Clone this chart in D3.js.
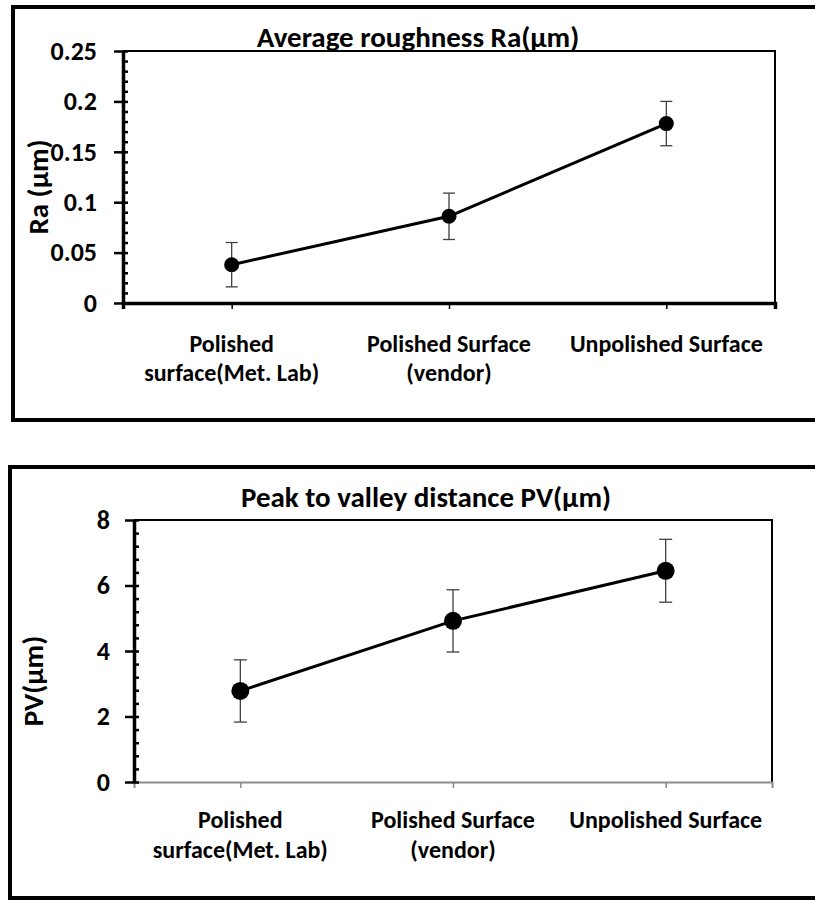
<!DOCTYPE html>
<html>
<head>
<meta charset="utf-8">
<script src="https://cdn.jsdelivr.net/npm/d3@7"></script>
<style>
  body { margin: 0; background: #fff; }
  svg text { font-family: Carlito, Calibri, "Liberation Sans Narrow", "Open Sans", sans-serif; font-weight: bold; fill: #000; }
</style>
</head>
<body>
<div id="chart"></div>
<script>
// Data
const categories = ["Polished surface(Met. Lab)", "Polished Surface (vendor)", "Unpolished Surface"]
const categoryLines = [["Polished", "surface(Met. Lab)"], ["Polished Surface", "(vendor)"], ["Unpolished Surface"]]

const raMean = [0.038, 0.086, 0.178]
const raError = [0.022, 0.023, 0.022]
const raTicks = [0, 0.05, 0.1, 0.15, 0.2, 0.25]
const raTickLabels = ["0", "0.05", "0.1", "0.15", "0.2", "0.25"]

const pvMean = [2.78, 4.92, 6.45]
const pvError = [0.95, 0.95, 0.96]
const pvTicks = [0, 2, 4, 6, 8]
const pvTickLabels = ["0", "2", "4", "6", "8"]

const svg = d3.select('#chart')
  .append('svg')
  .attr('width', 815)
  .attr('height', 900)

function drawChart(cfg) {
  const g = svg.append('g')

  // outer frame
  g.append('rect')
    .attr('x', cfg.box.x).attr('y', cfg.box.y)
    .attr('width', cfg.box.w).attr('height', cfg.box.h)
    .attr('fill', 'none')
    .attr('stroke', '#000')
    .attr('stroke-width', 4)

  const xScale = d3.scalePoint()
    .domain(categories)
    .range([cfg.left, cfg.right])
    .padding(0.5)

  const yScale = d3.scaleLinear()
    .domain([cfg.ticks[0], cfg.ticks[cfg.ticks.length - 1]])
    .range([cfg.bottom, cfg.top])

  // plot area top / right border
  g.append('path')
    .attr('d', `M${cfg.left},${cfg.top}H${cfg.right}V${cfg.bottom}`)
    .attr('fill', 'none')
    .attr('stroke', '#000')
    .attr('stroke-width', 2)

  // x axis
  const xAxis = d3.axisBottom(xScale)
    .tickSize(6)
    .tickSizeOuter(6)
    .tickFormat('')
  const xAxisGroup = g.append('g')
    .attr('transform', `translate(0, ${cfg.bottom})`)
    .call(xAxis)
  xAxisGroup.select('.domain')
    .attr('stroke', cfg.xAxisColor)
    .attr('stroke-width', cfg.xAxisWidth)
  xAxisGroup.selectAll('.tick line')
    .attr('stroke', cfg.xAxisColor)
    .attr('stroke-width', 1.5)

  // minor ticks (inside)
  const minorAxis = d3.axisRight(yScale)
    .tickValues(d3.range(cfg.ticks[0], cfg.ticks[cfg.ticks.length - 1] + cfg.minorStep / 2, cfg.minorStep))
    .tickSize(5)
    .tickSizeOuter(0)
    .tickFormat('')
  const minorGroup = g.append('g')
    .attr('transform', `translate(${cfg.left}, 0)`)
    .call(minorAxis)
  minorGroup.select('.domain').remove()
  minorGroup.selectAll('.tick line').attr('stroke', '#000').attr('stroke-width', 2.5)

  // major ticks (outside) + labels
  const yAxis = d3.axisLeft(yScale)
    .tickValues(cfg.ticks)
    .tickSize(9)
    .tickSizeOuter(0)
    .tickPadding(cfg.tickPad)
    .tickFormat((d, i) => cfg.tickLabels[i])
  const yAxisGroup = g.append('g')
    .attr('transform', `translate(${cfg.left}, 0)`)
    .call(yAxis)
  yAxisGroup.select('.domain')
    .attr('stroke', '#000')
    .attr('stroke-width', 3.5)
  yAxisGroup.selectAll('.tick line').attr('stroke', '#000').attr('stroke-width', 2.5)
  yAxisGroup.selectAll('.tick text')
    .attr('font-size', cfg.tickSize)
    .attr('font-family', null)

  // category labels
  const cats = g.append('g')
  categories.forEach((c, i) => {
    const t = cats.append('text')
      .attr('text-anchor', 'middle')
      .attr('font-size', cfg.fontSize)
    categoryLines[i].forEach((line, j) => {
      t.append('tspan')
        .attr('x', xScale(c))
        .attr('y', cfg.catY[j])
        .text(line)
    })
  })

  // title
  g.append('text')
    .attr('x', cfg.titleX)
    .attr('y', cfg.titleY)
    .attr('text-anchor', 'middle')
    .attr('font-size', cfg.titleSize)
    .text(cfg.title)

  // y axis title
  g.append('text')
    .attr('transform', `translate(${cfg.yTitleX}, ${cfg.yTitleY}) rotate(-90)`)
    .attr('text-anchor', 'middle')
    .attr('font-size', cfg.titleSize)
    .text(cfg.yTitle)

  // error bars
  const eb = g.append('g')
    .attr('stroke', '#404040')
    .attr('stroke-width', 1.3)
  categories.forEach((c, i) => {
    const x = xScale(c)
    const y1 = yScale(cfg.mean[i] + cfg.err[i])
    const y0 = yScale(cfg.mean[i] - cfg.err[i])
    eb.append('line').attr('x1', x).attr('x2', x).attr('y1', y1).attr('y2', y0)
    eb.append('line').attr('x1', x - cfg.cap).attr('x2', x + cfg.cap).attr('y1', y1).attr('y2', y1)
    eb.append('line').attr('x1', x - cfg.cap).attr('x2', x + cfg.cap).attr('y1', y0).attr('y2', y0)
  })

  // line
  const lineGenerator = d3.line()
    .x((d, i) => xScale(categories[i]))
    .y(d => yScale(d))
  g.append('path')
    .datum(cfg.mean)
    .attr('d', lineGenerator)
    .attr('fill', 'none')
    .attr('stroke', '#000')
    .attr('stroke-width', 3)

  // markers
  g.selectAll('circle.pt')
    .data(cfg.mean)
    .join('circle')
    .attr('class', 'pt')
    .attr('cx', (d, i) => xScale(categories[i]))
    .attr('cy', d => yScale(d))
    .attr('r', cfg.r)
    .attr('fill', '#000')
}

drawChart({
  box: { x: 13, y: 7, w: 810, h: 413 },
  left: 123, right: 775, top: 51, bottom: 303,
  ticks: raTicks, tickLabels: raTickLabels, minorStep: 0.01, tickPad: 17,
  mean: raMean, err: raError,
  title: 'Average roughness Ra(µm)', titleX: 418, titleY: 47,
  yTitle: 'Ra (µm)', yTitleX: 48, yTitleY: 187,
  catY: [352, 381],
  xAxisColor: '#000', xAxisWidth: 3.5,
  fontSize: 24, tickSize: 26, titleSize: 29, r: 7.5, cap: 6
})

drawChart({
  box: { x: 10, y: 467, w: 815, h: 431 },
  left: 134, right: 772, top: 520, bottom: 782,
  ticks: pvTicks, tickLabels: pvTickLabels, minorStep: 0.4, tickPad: 15,
  mean: pvMean, err: pvError,
  title: 'Peak to valley distance PV(µm)', titleX: 426, titleY: 507,
  yTitle: 'PV(µm)', yTitleX: 43, yTitleY: 681,
  catY: [828, 858],
  xAxisColor: '#8c8c8c', xAxisWidth: 2,
  fontSize: 24, tickSize: 26, titleSize: 29, r: 9, cap: 6.5
})
</script>
</body>
</html>
